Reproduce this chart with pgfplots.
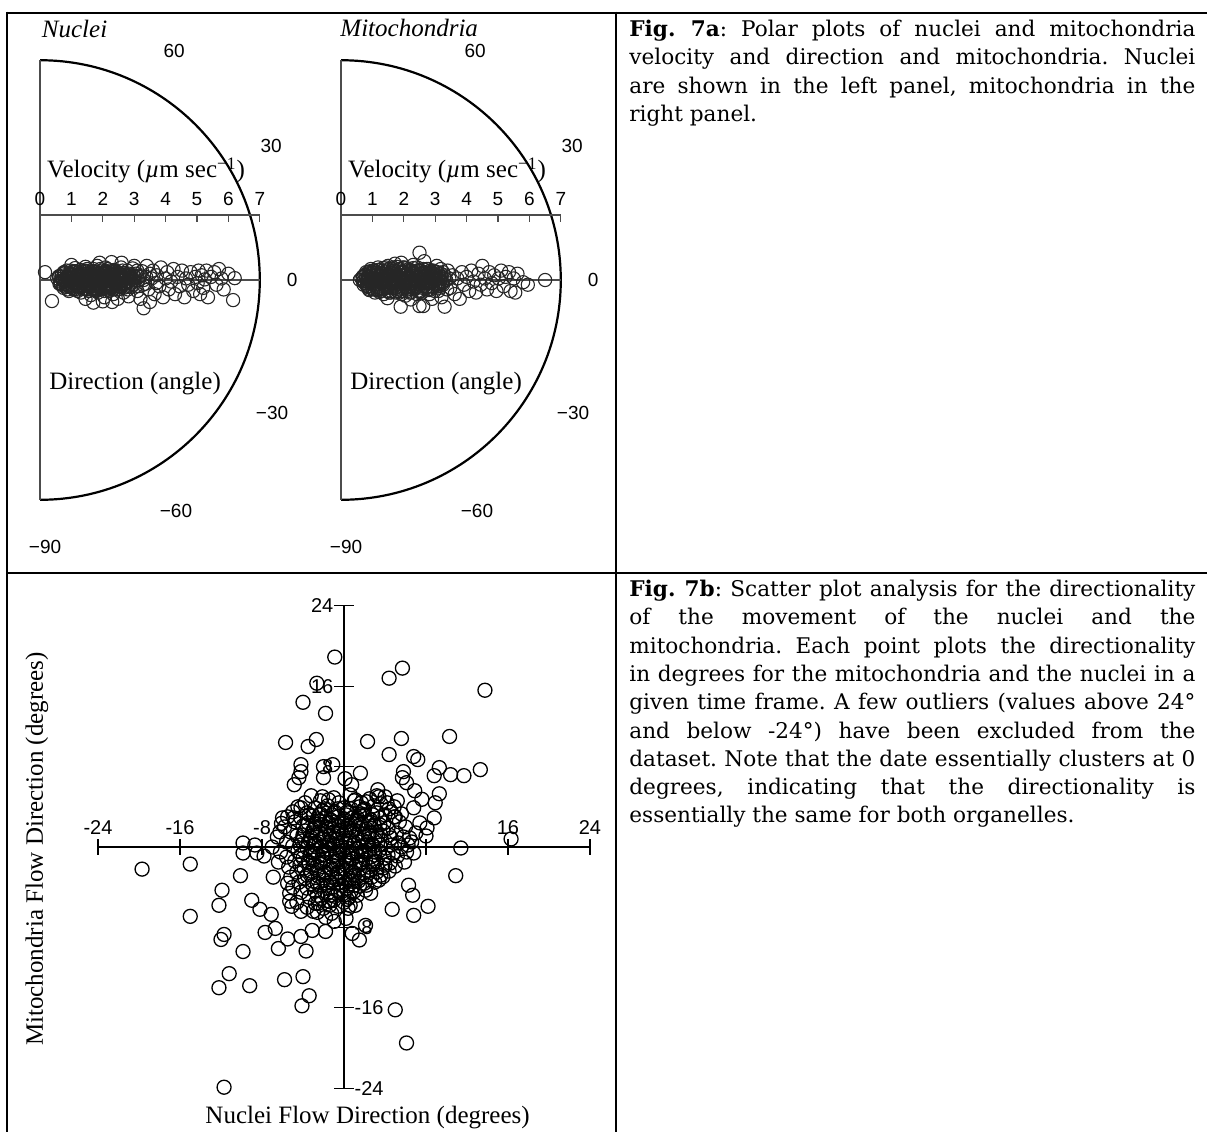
\documentclass[border=0pt]{standalone}
\usepackage{fontspec}
\setmainfont{Liberation Serif}
\newfontfamily\helv{Liberation Sans}
\newfontfamily\capfont{DejaVu Serif}
\usepackage{pgfplots}
\pgfplotsset{compat=1.18}
\pgfplotsset{
  polarpanel/.style={scale only axis, width=164.85pt, height=251.2pt,
    xmin=-1.5, xmax=9, ymin=-8, ymax=8, hide axis, clip=false, anchor=origin},
  polarpts/.style={only marks, mark=o, mark size=3.3pt, mark options={line width=0.55pt, draw=black!85}},
}
\newcommand\lab{\helv\fontsize{9.5}{11}\selectfont}
\newcommand\slab{\helv\fontsize{10}{12}\selectfont}
\newcommand\tnr{\fontsize{12.5}{14}\selectfont}
\newcommand\polarframe{%
  \node[font=\tnr,anchor=base,inner sep=0] at (axis cs:3.38,3.25) {Velocity (\textit{µ}m sec\textsuperscript{−1})};
  \node[font=\tnr,anchor=base,inner sep=0] at (axis cs:3.03,-3.5) {Direction (angle)};
  \draw[line width=1.1pt] (axis cs:0,7) arc[start angle=90,end angle=-90,radius=109.9pt];
  \draw[black!70,line width=0.55pt] (axis cs:0,7) -- (axis cs:0,-7);
  \draw[black!70,line width=0.55pt] (axis cs:0,0) -- (axis cs:7,0);
  \draw[black!70,line width=0.55pt] (axis cs:0,2.07) -- (axis cs:7,2.07);
  \pgfplotsinvokeforeach{1,...,7}{\draw[black!70,line width=0.55pt] (axis cs:##1,2.07) -- (axis cs:##1,1.85);}
  \pgfplotsinvokeforeach{0,...,7}{\node[font=\lab,anchor=base,inner sep=0] at (axis cs:##1,2.36) {##1};}
  \node[font=\lab] at (axis cs:4.27,7.28) {60};
  \node[font=\lab] at (axis cs:7.36,4.27) {30};
  \node[font=\lab] at (axis cs:8.03,0) {0};
  \node[font=\lab] at (axis cs:7.39,-4.24) {−30};
  \node[font=\lab] at (axis cs:4.33,-7.36) {−60};
  \node[font=\lab] at (axis cs:0.16,-8.5) {−90};
}
\pgfplotstableread{
x y
0.16 0.25
0.38 -0.67
0.55 0.05
0.62 -0.12
0.70 0.18
0.75 -0.25
0.80 0.02
0.85 0.30
0.88 -0.08
0.92 -0.35
0.95 0.12
1.00 -0.18
1.02 0.25
1.05 0.00
1.10 -0.30
1.12 0.38
1.15 -0.05
1.18 0.15
1.22 -0.22
1.25 0.05
1.28 0.32
1.30 -0.40
1.33 -0.10
1.36 0.20
1.40 0.00
1.42 -0.28
1.45 0.42
1.48 0.10
1.50 -0.15
1.53 0.28
1.56 -0.35
1.60 0.05
1.62 -0.48
1.65 0.18
1.68 -0.05
1.70 0.35
1.73 -0.25
1.76 0.08
1.80 -0.12
1.82 0.45
1.85 -0.40
1.88 0.22
1.90 0.00
1.93 -0.30
1.96 0.30
2.00 -0.08
2.02 0.12
2.05 -0.55
2.08 0.40
2.10 -0.20
2.14 0.05
2.18 0.25
2.20 -0.35
2.24 -0.05
2.28 0.57
2.30 0.15
2.33 -0.45
2.36 0.32
2.40 -0.15
2.44 0.05
2.48 -0.60
2.50 0.22
2.55 -0.28
2.58 0.40
2.62 0.00
2.66 -0.40
2.70 0.18
2.74 -0.10
2.78 0.30
2.82 -0.52
2.86 0.08
2.90 -0.22
2.95 0.37
3.00 -0.05
3.05 0.20
3.10 -0.35
3.15 0.10
3.20 -0.60
3.25 0.28
3.30 -0.90
3.35 -0.12
3.40 0.45
3.45 -0.30
3.50 -0.70
3.55 0.05
3.60 0.30
3.65 -0.45
3.72 0.15
3.80 -0.20
3.85 0.40
3.92 -0.55
4.00 0.05
4.05 0.25
4.10 -0.30
4.18 -0.05
4.25 0.35
4.30 -0.45
4.38 0.10
4.45 -0.20
4.52 0.30
4.60 -0.55
4.65 0.05
4.72 -0.15
4.80 0.25
4.88 -0.35
4.95 0.10
5.02 -0.10
5.05 0.30
5.10 -0.45
5.15 0.15
5.20 -0.25
5.25 0.02
5.30 0.30
5.35 -0.55
5.45 0.10
5.55 0.25
5.62 -0.15
5.70 0.35
5.78 0.05
5.85 -0.30
6.00 0.20
6.15 -0.64
6.20 0.06
0.90 0.05
1.00 0.20
1.10 0.10
1.20 -0.10
1.30 0.10
1.40 -0.20
1.50 0.20
1.60 -0.10
1.70 0.10
1.80 0.25
1.90 -0.20
2.00 0.20
2.10 0.00
2.20 0.10
2.30 -0.20
2.40 0.30
2.50 -0.10
2.60 0.10
1.05 -0.10
1.35 0.05
1.65 -0.30
1.95 0.15
2.25 -0.25
2.55 0.10
0.85 -0.15
1.15 0.28
1.45 -0.05
1.75 0.20
2.05 -0.35
2.35 0.00
2.65 -0.15
2.90 0.10
3.10 0.30
3.30 0.00
3.50 0.20
3.70 -0.10
1.20 -0.35
1.50 0.35
1.80 -0.35
2.15 0.35
1.70 -0.72
2.00 -0.68
2.30 -0.70
1.45 -0.60
1.00 0.48
1.90 0.55
2.60 0.55
3.00 0.45
0.60 0.12
0.65 -0.12
0.72 0.00
0.78 0.22
0.83 -0.22
0.87 0.10
0.93 -0.05
0.97 0.30
1.03 -0.25
1.07 0.12
1.13 -0.15
1.17 0.00
1.23 0.25
1.27 -0.20
1.32 0.12
1.37 -0.08
1.43 0.30
1.47 -0.30
1.52 0.00
1.57 0.15
1.63 -0.18
1.67 0.28
1.72 -0.02
1.77 -0.30
1.83 0.10
1.87 -0.15
1.92 0.35
1.97 -0.05
2.03 0.22
2.07 -0.25
2.12 0.10
2.17 -0.12
2.22 0.30
2.27 0.02
2.32 -0.30
2.37 0.18
2.42 -0.05
2.47 0.25
2.52 -0.20
2.57 0.05
2.63 0.30
2.68 -0.10
2.73 0.12
2.80 -0.30
2.85 0.20
2.92 -0.08
2.98 0.15
3.05 -0.20
3.12 -0.02
3.20 0.15
3.28 -0.15
3.38 0.10
}\nucdata
\pgfplotstableread{
x y
0.60 0.00
0.70 0.12
0.72 -0.15
0.80 0.25
0.82 -0.05
0.88 -0.28
0.90 0.10
0.95 0.35
1.00 -0.15
1.02 0.05
1.08 -0.40
1.10 0.22
1.15 -0.02
1.18 0.40
1.20 -0.25
1.25 0.12
1.30 -0.10
1.32 0.30
1.36 -0.45
1.40 0.02
1.44 0.20
1.48 -0.58
1.50 0.45
1.52 -0.20
1.56 0.10
1.60 -0.35
1.64 0.28
1.68 -0.05
1.72 0.52
1.75 -0.40
1.78 0.15
1.82 -0.15
1.86 0.35
1.90 -0.85
1.92 0.55
1.94 -0.25
1.98 0.05
2.02 0.40
2.05 -0.50
2.10 0.18
2.14 -0.10
2.18 0.30
2.22 -0.62
2.25 0.00
2.30 0.48
2.34 -0.30
2.38 0.12
2.42 -0.45
2.46 0.30
2.50 0.87
2.50 -0.83
2.54 -0.10
2.58 0.20
2.62 -0.83
2.65 0.60
2.70 -0.25
2.74 0.05
2.78 0.35
2.82 -0.45
2.86 0.15
2.90 -0.60
2.95 0.30
3.00 -0.15
3.05 0.45
3.10 -0.35
3.15 0.08
3.20 -0.55
3.25 0.25
3.30 -0.85
3.35 0.00
3.40 0.30
3.48 -0.25
3.55 0.15
3.62 -0.45
3.70 0.05
3.78 -0.60
3.85 0.25
3.92 -0.15
4.00 0.10
4.08 -0.35
4.15 0.30
4.22 -0.05
4.30 -0.40
4.38 0.20
4.45 -0.15
4.50 0.45
4.58 0.05
4.65 -0.30
4.72 0.25
4.80 -0.10
4.88 0.15
4.95 -0.35
5.02 0.05
5.10 0.30
5.18 -0.20
5.25 0.10
5.35 0.25
5.40 -0.35
5.50 0.05
5.55 -0.40
5.62 0.20
5.80 -0.07
5.95 -0.15
6.50 0.00
0.90 -0.10
1.00 0.15
1.10 -0.05
1.20 0.20
1.30 0.05
1.40 -0.15
1.50 0.10
1.60 0.00
1.70 0.20
1.80 -0.05
1.90 0.15
2.00 -0.10
2.10 0.05
2.20 -0.20
2.30 0.20
2.40 -0.05
2.50 0.10
2.60 -0.20
2.70 0.10
2.80 -0.10
2.90 0.05
3.00 0.15
3.10 -0.10
1.05 0.30
1.35 -0.30
1.65 0.35
1.95 -0.35
2.25 0.30
2.55 -0.35
2.85 0.30
1.15 -0.30
1.45 0.30
1.75 -0.25
2.05 0.30
2.35 -0.20
2.65 0.25
0.85 0.00
3.20 0.10
0.65 0.05
0.70 -0.05
0.78 0.18
0.85 -0.20
0.92 0.28
0.97 0.00
1.03 -0.30
1.08 0.15
1.13 -0.12
1.18 0.32
1.23 0.00
1.28 -0.35
1.33 0.20
1.38 -0.05
1.43 0.40
1.47 -0.25
1.53 0.15
1.58 -0.40
1.63 0.05
1.68 0.30
1.73 -0.15
1.78 0.42
1.83 -0.30
1.88 0.08
1.93 -0.45
1.98 0.25
2.03 -0.08
2.08 0.38
2.13 -0.30
2.18 0.10
2.23 -0.40
2.28 0.25
2.33 0.00
2.38 -0.25
2.43 0.40
2.48 -0.12
2.53 0.30
2.58 -0.40
2.63 0.12
2.68 -0.05
2.73 0.35
2.78 -0.30
2.83 0.05
2.88 -0.20
2.93 0.20
2.98 -0.35
3.03 0.00
3.08 0.25
3.13 -0.20
3.18 0.35
3.23 -0.10
3.30 0.15
3.38 -0.30
3.45 0.05
}\mitodata
\pgfplotstableread{
x y
-0.9 18.9
5.7 17.8
4.4 16.8
13.75 15.6
-2.65 16.3
-4.0 14.4
-1.8 13.3
-5.7 10.4
-3.5 10.0
-2.7 10.7
2.3 10.5
5.6 10.8
10.3 11.0
4.4 9.2
6.8 9.0
7.2 8.7
9.3 7.9
8.8 7.1
10.4 7.2
11.7 7.1
13.3 7.7
5.8 7.5
5.7 6.9
6.1 6.4
6.9 5.6
9.3 5.3
8.9 4.4
7.6 4.75
6.8 3.9
8.8 2.9
7.4 2.4
8.1 1.9
8.0 1.1
7.0 1.4
11.4 -0.1
16.3 0.8
-4.2 8.2
-4.2 7.5
-4.4 6.9
-4.85 6.2
-2.0 8.0
-1.1 8.2
-2.0 6.9
1.6 7.35
0.1 6.8
0.75 6.2
3.3 5.7
3.2 5.1
4.9 4.0
-2.1 5.0
-1.5 4.7
-4.2 3.9
-4.9 2.9
-6.0 2.9
-6.1 2.35
-6.25 1.5
-9.85 0.4
-9.85 -0.6
-8.7 0.2
-8.5 -0.6
-7.8 -0.9
1.7 4.4
1.1 4.7
1.9 3.7
3.4 5.0
4.2 4.4
4.9 3.0
6.25 0.2
6.4 0.9
6.8 -0.6
-19.7 -2.2
-15.0 -1.7
-10.1 -2.85
-6.9 -3.0
-11.9 -4.3
-12.2 -5.8
-15.0 -6.9
-9.0 -5.3
-8.2 -6.2
-7.1 -6.7
10.9 -2.85
6.3 -3.8
6.7 -4.8
8.2 -5.9
6.8 -6.8
4.7 -6.2
3.8 -2.95
2.1 -4.3
1.1 -5.8
0.4 -6.1
-0.95 -7.4
2.1 -7.8
0.8 -8.6
1.5 -9.25
-1.8 -8.4
-3.1 -8.3
-4.2 -8.9
-5.5 -9.15
-6.4 -10.1
-3.7 -10.35
-7.7 -8.5
-6.7 -8.1
-11.7 -8.7
-12.0 -9.2
-9.85 -10.4
-11.2 -12.6
-12.2 -14.0
-9.2 -13.8
-5.8 -13.2
-4.0 -12.9
-3.4 -14.8
-4.1 -15.8
5.0 -16.2
6.1 -19.5
-11.7 -23.9
-5.3 -5.4
-5.1 -5.9
-4.2 -6.4
-3.0 -6.4
-2.5 -5.6
-1.5 -5.4
3.4 -3.3
-5.3 -4.6
-5.5 -3.6
-3.2 5.1
-1.0 4.9
0.6 5.2
2.5 4.8
4.0 5.0
-3.8 4.4
-2.3 4.6
-0.5 4.4
1.0 4.6
2.2 4.5
3.6 4.3
5.2 4.6
-4.5 4.0
-2.8 3.9
-1.6 4.1
0.0 3.9
1.5 4.0
2.9 4.1
4.4 3.8
-5.0 3.5
-3.6 3.4
-2.1 3.6
-0.9 3.5
0.4 3.4
1.8 3.6
3.2 3.4
4.6 3.5
5.6 3.3
-5.5 3.0
-4.2 2.9
-3.0 3.1
-1.8 2.9
-0.6 3.0
0.8 2.9
2.0 3.1
3.5 2.9
5.0 3.0
-4.8 2.5
-3.5 2.4
-2.4 2.6
-1.2 2.5
0.1 2.4
1.2 2.6
2.6 2.5
3.9 2.4
5.4 2.5
-5.8 2.0
-4.0 2.1
-2.9 1.9
-1.7 2.0
-0.5 2.1
0.6 1.9
1.8 2.0
3.0 2.1
4.3 1.9
6.0 2.0
-5.2 1.5
-3.8 1.6
-2.3 1.4
-1.0 1.5
0.2 1.6
1.4 1.4
2.5 1.5
3.8 1.6
5.1 1.4
-6.5 1.0
-4.6 1.1
-3.2 0.9
-2.0 1.0
-0.8 1.1
0.5 0.9
1.9 1.0
3.3 1.1
4.6 0.9
5.8 1.0
-5.6 0.5
-4.1 0.6
-2.7 0.4
-1.4 0.5
-0.2 0.6
1.0 0.4
2.3 0.5
3.7 0.6
5.3 0.4
6.6 0.5
-7.0 0.0
-5.0 0.1
-3.6 -0.1
-2.2 0.0
-1.0 0.1
0.3 -0.1
1.6 0.0
2.9 0.1
4.1 -0.1
5.6 0.0
-6.2 -0.5
-4.5 -0.4
-3.0 -0.6
-1.7 -0.5
-0.4 -0.4
0.8 -0.6
2.1 -0.5
3.4 -0.4
4.8 -0.6
6.1 -0.5
-5.6 -1.0
-4.0 -1.1
-2.5 -0.9
-1.2 -1.0
0.1 -1.1
1.3 -0.9
2.6 -1.0
4.0 -1.1
5.2 -0.9
-6.4 -1.5
-4.8 -1.4
-3.4 -1.6
-2.0 -1.5
-0.7 -1.4
0.5 -1.6
1.8 -1.5
3.1 -1.4
4.5 -1.6
5.9 -1.5
-5.4 -2.0
-3.9 -2.1
-2.6 -1.9
-1.4 -2.0
-0.1 -2.1
1.1 -1.9
2.4 -2.0
3.8 -2.1
5.0 -1.9
-4.6 -2.5
-3.2 -2.4
-1.9 -2.6
-0.6 -2.5
0.7 -2.4
1.9 -2.6
3.2 -2.5
4.4 -2.4
-5.2 -3.0
-3.8 -3.1
-2.5 -2.9
-1.2 -3.0
0.1 -3.1
1.4 -2.9
2.7 -3.0
-4.4 -3.5
-3.0 -3.4
-1.7 -3.6
-0.5 -3.5
0.8 -3.4
2.0 -3.6
3.0 -3.5
-5.0 -4.0
-3.6 -4.1
-2.3 -3.9
-1.1 -4.0
0.3 -4.1
1.5 -3.9
-4.2 -4.5
-2.8 -4.4
-1.6 -4.6
-0.3 -4.5
1.0 -4.4
2.6 -4.6
-3.4 -5.0
-2.2 -5.1
-0.9 -4.9
0.5 -5.0
-4.6 -5.5
-2.8 -5.6
-1.4 -5.4
0.0 -5.5
-3.6 -6.0
-2.0 -6.1
-0.6 -5.9
-2.6 -6.5
-1.2 -6.6
-1.8 -7.0
0.2 -7.1
-2.6 2.8
-1.3 2.7
0.0 2.8
1.3 2.9
2.6 2.7
-3.0 1.7
-1.6 1.8
-0.3 1.7
1.0 1.7
2.2 1.8
-3.3 0.7
-2.0 0.8
-0.7 0.7
0.6 0.6
1.8 0.7
3.0 0.8
-2.8 -0.3
-1.5 -0.2
-0.1 -0.3
1.2 -0.2
2.5 -0.3
-3.0 -1.3
-1.8 -1.2
-0.5 -1.3
0.8 -1.2
2.1 -1.3
-2.6 -2.3
-1.2 -2.2
0.2 -2.3
1.5 -2.2
-2.0 -3.3
-0.8 -3.2
0.5 -3.3
-1.9 3.8
-0.6 3.8
0.7 3.8
2.0 3.8
-3.4 3.2
-2.4 3.2
-1.2 3.2
0.2 3.2
1.5 3.2
2.8 3.2
4.0 3.2
-3.6 2.2
-2.2 2.2
-0.9 2.2
0.4 2.2
1.6 2.2
2.9 2.2
3.5 2.2
-4.0 1.2
-2.6 1.2
-1.4 1.2
-0.1 1.2
1.2 1.2
2.4 1.2
3.6 1.2
4.4 1.2
-4.3 0.2
-2.9 0.2
-1.6 0.2
-0.4 0.2
0.9 0.2
2.2 0.2
3.5 0.2
4.6 0.2
-4.2 -0.8
-3.3 -0.8
-2.1 -0.8
-0.8 -0.8
0.5 -0.8
1.7 -0.8
3.0 -0.8
4.3 -0.8
-4.3 -1.8
-3.0 -1.8
-1.1 -1.8
0.2 -1.8
1.5 -1.8
2.8 -1.8
4.0 -1.8
-3.6 -2.8
-2.0 -2.8
-0.3 -2.8
1.0 -2.8
2.2 -2.8
3.6 -2.8
-3.0 -3.8
-1.6 -3.8
-0.2 -3.8
1.0 -3.8
2.2 -3.8
-2.6 -4.8
-1.3 -4.8
0.0 -4.8
1.3 -4.8
-1.4 -5.8
0.6 -5.8
-2.3 3.3
-1.0 3.4
0.3 3.5
1.7 3.3
-2.8 2.3
-1.5 2.4
-0.2 2.5
1.1 2.3
2.4 2.4
-3.1 1.4
-1.8 1.3
-0.5 1.4
0.8 1.5
2.0 1.3
3.2 1.5
-3.5 0.4
-2.4 0.5
-1.1 0.3
0.2 0.4
1.4 0.5
2.7 0.3
-3.2 -0.5
-2.0 -0.4
-0.7 -0.6
0.6 -0.5
1.9 -0.4
3.0 -0.5
-3.5 -1.5
-2.3 -1.6
-1.0 -1.5
0.3 -1.4
1.6 -1.6
2.9 -1.5
-3.2 -2.6
-1.8 -2.5
-0.5 -2.6
0.9 -2.5
2.3 -2.4
-2.6 -3.6
-1.3 -3.5
0.1 -3.6
1.4 -3.4
-1.9 -4.4
-0.6 -4.3
0.7 -4.4
-1.0 -5.3
0.3 -5.2
}\scatdata
\begin{document}
\begin{tikzpicture}
\path[use as bounding box] (0,0) rectangle (603.5pt,-566pt);
% table rules
\draw[line width=1.3pt] (3.5pt,-6.5pt) -- (603.5pt,-6.5pt);
\draw[line width=1.3pt] (3.5pt,-286.5pt) -- (603.5pt,-286.5pt);
\draw[line width=1.3pt] (3.5pt,-5.85pt) -- (3.5pt,-566pt);
\draw[line width=1.3pt] (308pt,-5.85pt) -- (308pt,-566pt);

% Nuclei polar panel
\begin{axis}[polarpanel, at={(20pt,-140pt)}]
\polarframe
\node[font=\tnr\itshape,anchor=base west,inner sep=0] at (axis cs:0.05,7.71) {Nuclei};
\addplot[polarpts] table[x=x,y=y] {\nucdata};
% dense core of the nuclei cloud
\addplot[polarpts] coordinates {
(0.62,0.10) (0.66,-0.10) (0.70,0.05) (0.74,-0.18) (0.78,0.22) (0.82,-0.05) (0.86,0.12) (0.90,-0.20)
(0.94,0.20) (0.98,-0.15) (1.02,0.05) (1.06,-0.28) (1.10,0.28) (1.14,-0.05) (1.18,0.12) (1.22,-0.20)
(1.26,0.20) (1.30,-0.15) (1.34,0.05) (1.38,-0.28) (1.42,0.28) (1.46,-0.05) (1.50,0.12) (1.54,-0.20)
(1.58,0.20) (1.62,-0.15) (1.66,0.05) (1.70,-0.28) (1.74,0.28) (1.78,-0.05) (1.82,0.12) (1.86,-0.20)
(1.90,0.20) (1.94,-0.15) (1.98,0.05) (2.02,-0.28) (2.06,0.28) (2.10,-0.05) (2.14,0.12) (2.18,-0.20)
(2.22,0.20) (2.26,-0.15) (2.30,0.05) (2.34,-0.28) (2.38,0.28) (2.42,-0.05) (2.46,0.12) (2.50,-0.20)
(2.54,0.20) (2.58,-0.15) (2.62,0.05) (2.66,-0.25) (2.70,0.22) (2.74,-0.05) (2.78,0.12) (2.82,-0.18)
(2.86,0.15) (2.90,-0.12) (2.94,0.05) (2.98,-0.15) (3.02,0.10)
(0.64,-0.05) (0.68,0.12) (0.72,-0.02) (0.76,0.25) (0.80,-0.12) (0.84,0.08) (0.88,-0.30) (0.92,0.18)
(0.96,-0.22) (1.00,0.15) (1.04,-0.02) (1.08,0.25) (1.12,-0.12) (1.16,0.08) (1.20,-0.30) (1.24,0.18)
(1.28,-0.22) (1.32,0.15) (1.36,-0.02) (1.40,0.25) (1.44,-0.12) (1.48,0.08) (1.52,-0.30) (1.56,0.18)
(1.60,-0.22) (1.64,0.15) (1.68,-0.02) (1.72,0.25) (1.76,-0.12) (1.80,0.08) (1.84,-0.30) (1.88,0.18)
(1.92,-0.22) (1.96,0.15) (2.00,-0.02) (2.04,0.25) (2.08,-0.12) (2.12,0.08) (2.16,-0.30) (2.20,0.18)
(2.24,-0.22) (2.28,0.15) (2.32,-0.02) (2.36,0.25) (2.40,-0.12) (2.44,0.08) (2.48,-0.30) (2.52,0.18)
(2.56,-0.22) (2.60,0.15) (2.64,-0.02) (2.68,0.22) (2.72,-0.12) (2.76,0.08) (2.80,-0.22) (2.84,0.05)
};
\end{axis}

% Mitochondria polar panel
\begin{axis}[polarpanel, at={(170.5pt,-140pt)}]
\polarframe
\node[font=\tnr\itshape,anchor=base west,inner sep=0] at (axis cs:-0.03,7.77) {Mitochondria};
\addplot[polarpts] table[x=x,y=y] {\mitodata};
% dense core of the mitochondria cloud
\addplot[polarpts] coordinates {
(0.72,0.10) (0.76,-0.10) (0.80,0.05) (0.84,-0.22) (0.88,0.25) (0.92,-0.05) (0.96,0.15) (1.00,-0.25)
(1.04,0.25) (1.08,-0.18) (1.12,0.05) (1.16,-0.32) (1.20,0.32) (1.24,-0.05) (1.28,0.15) (1.32,-0.25)
(1.36,0.25) (1.40,-0.18) (1.44,0.05) (1.48,-0.35) (1.52,0.35) (1.56,-0.05) (1.60,0.15) (1.64,-0.25)
(1.68,0.25) (1.72,-0.18) (1.76,0.05) (1.80,-0.35) (1.84,0.35) (1.88,-0.05) (1.92,0.15) (1.96,-0.25)
(2.00,0.25) (2.04,-0.18) (2.08,0.05) (2.12,-0.35) (2.16,0.35) (2.20,-0.05) (2.24,0.15) (2.28,-0.25)
(2.32,0.25) (2.36,-0.18) (2.40,0.05) (2.44,-0.35) (2.48,0.32) (2.52,-0.05) (2.56,0.15) (2.60,-0.25)
(2.64,0.25) (2.68,-0.18) (2.72,0.05) (2.76,-0.30) (2.80,0.28) (2.84,-0.05) (2.88,0.15) (2.92,-0.22)
(2.96,0.20) (3.00,-0.15) (3.04,0.05) (3.08,-0.20) (3.12,0.18) (3.16,-0.05) (3.20,0.12) (3.25,-0.15)
(0.74,-0.02) (0.78,0.15) (0.82,-0.15) (0.86,0.08) (0.90,-0.32) (0.94,0.22) (0.98,-0.10) (1.02,0.30)
(1.06,-0.02) (1.10,0.15) (1.14,-0.22) (1.18,0.08) (1.22,-0.38) (1.26,0.22) (1.30,-0.10) (1.34,0.38)
(1.38,-0.02) (1.42,0.15) (1.46,-0.22) (1.50,0.08) (1.54,-0.40) (1.58,0.22) (1.62,-0.10) (1.66,0.40)
(1.70,-0.02) (1.74,0.15) (1.78,-0.22) (1.82,0.08) (1.86,-0.40) (1.90,0.22) (1.94,-0.10) (1.98,0.40)
(2.02,-0.02) (2.06,0.15) (2.10,-0.22) (2.14,0.08) (2.18,-0.40) (2.22,0.22) (2.26,-0.10) (2.30,0.38)
(2.34,-0.02) (2.38,0.15) (2.42,-0.22) (2.46,0.08) (2.50,-0.38) (2.54,0.22) (2.58,-0.10) (2.62,0.35)
(2.66,-0.02) (2.70,0.15) (2.74,-0.22) (2.78,0.08) (2.82,-0.32) (2.86,0.22) (2.90,-0.10) (2.94,0.28)
(2.98,-0.02) (3.02,0.12) (3.06,-0.15) (3.10,0.05) (3.14,-0.25) (3.18,0.20) (3.22,-0.05) (3.30,0.05)
};
\end{axis}

% Scatter panel
\begin{axis}[scale only axis, width=266.5pt, height=261.3pt,
  xmin=-26, xmax=26, ymin=-26, ymax=26, hide axis, clip=false,
  anchor=origin, at={(172pt,-423.5pt)}]
\draw[line width=0.65pt] (axis cs:-24,0) -- (axis cs:24,0);
\draw[line width=0.65pt] (axis cs:0,-24) -- (axis cs:0,24);
\pgfplotsinvokeforeach{-24,-16,-8,8,16,24}{\draw[line width=0.65pt] (axis cs:#1,-0.75) -- (axis cs:#1,0.75);}
\pgfplotsinvokeforeach{-24,-16,-8,8,16,24}{\draw[line width=0.65pt] (axis cs:-0.95,#1) -- (axis cs:0.95,#1);}
\pgfplotsinvokeforeach{-24,-16,-8,16,24}{\node[font=\slab,anchor=base,inner sep=0] at (axis cs:#1,1.2) {#1};}
\pgfplotsinvokeforeach{8,16,24}{\node[font=\slab,anchor=east,inner sep=0] at (axis cs:-1.0,#1) {#1};}
\pgfplotsinvokeforeach{-8,-16,-24}{\node[font=\slab,anchor=west,inner sep=0] at (axis cs:1.0,#1) {#1};}
\node[font=\tnr] at (axis cs:2.3,-26.9) {Nuclei Flow Direction (degrees)};
\node[font=\tnr,rotate=90] at (axis cs:-29.95,-0.2) {Mitochondria Flow Direction (degrees)};
\addplot[only marks, mark=o, mark size=3.5pt, mark options={line width=0.65pt, draw=black}] table[x=x,y=y] {\scatdata};
\end{axis}

% captions
\node[anchor=base west, inner sep=0] at (314.5pt,-18.25pt) {\parbox[t]{283pt}{\capfont\fontsize{10.8}{14.15}\selectfont\frenchspacing\tolerance=10000\hyphenpenalty=10000\exhyphenpenalty=10000
\textbf{Fig. 7a}: Polar plots of nuclei and mitochondria\linebreak velocity and direction and mitochondria. Nuclei\linebreak are shown in the left panel, mitochondria in the\linebreak right panel.}};
\node[anchor=base west, inner sep=0] at (314.5pt,-298.25pt) {\parbox[t]{283pt}{\capfont\fontsize{10.8}{14.15}\selectfont\frenchspacing\tolerance=10000\hyphenpenalty=10000\exhyphenpenalty=10000
\textbf{Fig. 7b}: Scatter plot analysis for the directionality\linebreak of the movement of the nuclei and the\linebreak mitochondria. Each point plots the directionality\linebreak in degrees for the mitochondria and the nuclei in a\linebreak given time frame. A few outliers (values above 24°\linebreak and below -24°) have been excluded from the\linebreak dataset. Note that the date essentially clusters at 0\linebreak degrees, indicating that the directionality is\linebreak essentially the same for both organelles.}};
\end{tikzpicture}
\end{document}
